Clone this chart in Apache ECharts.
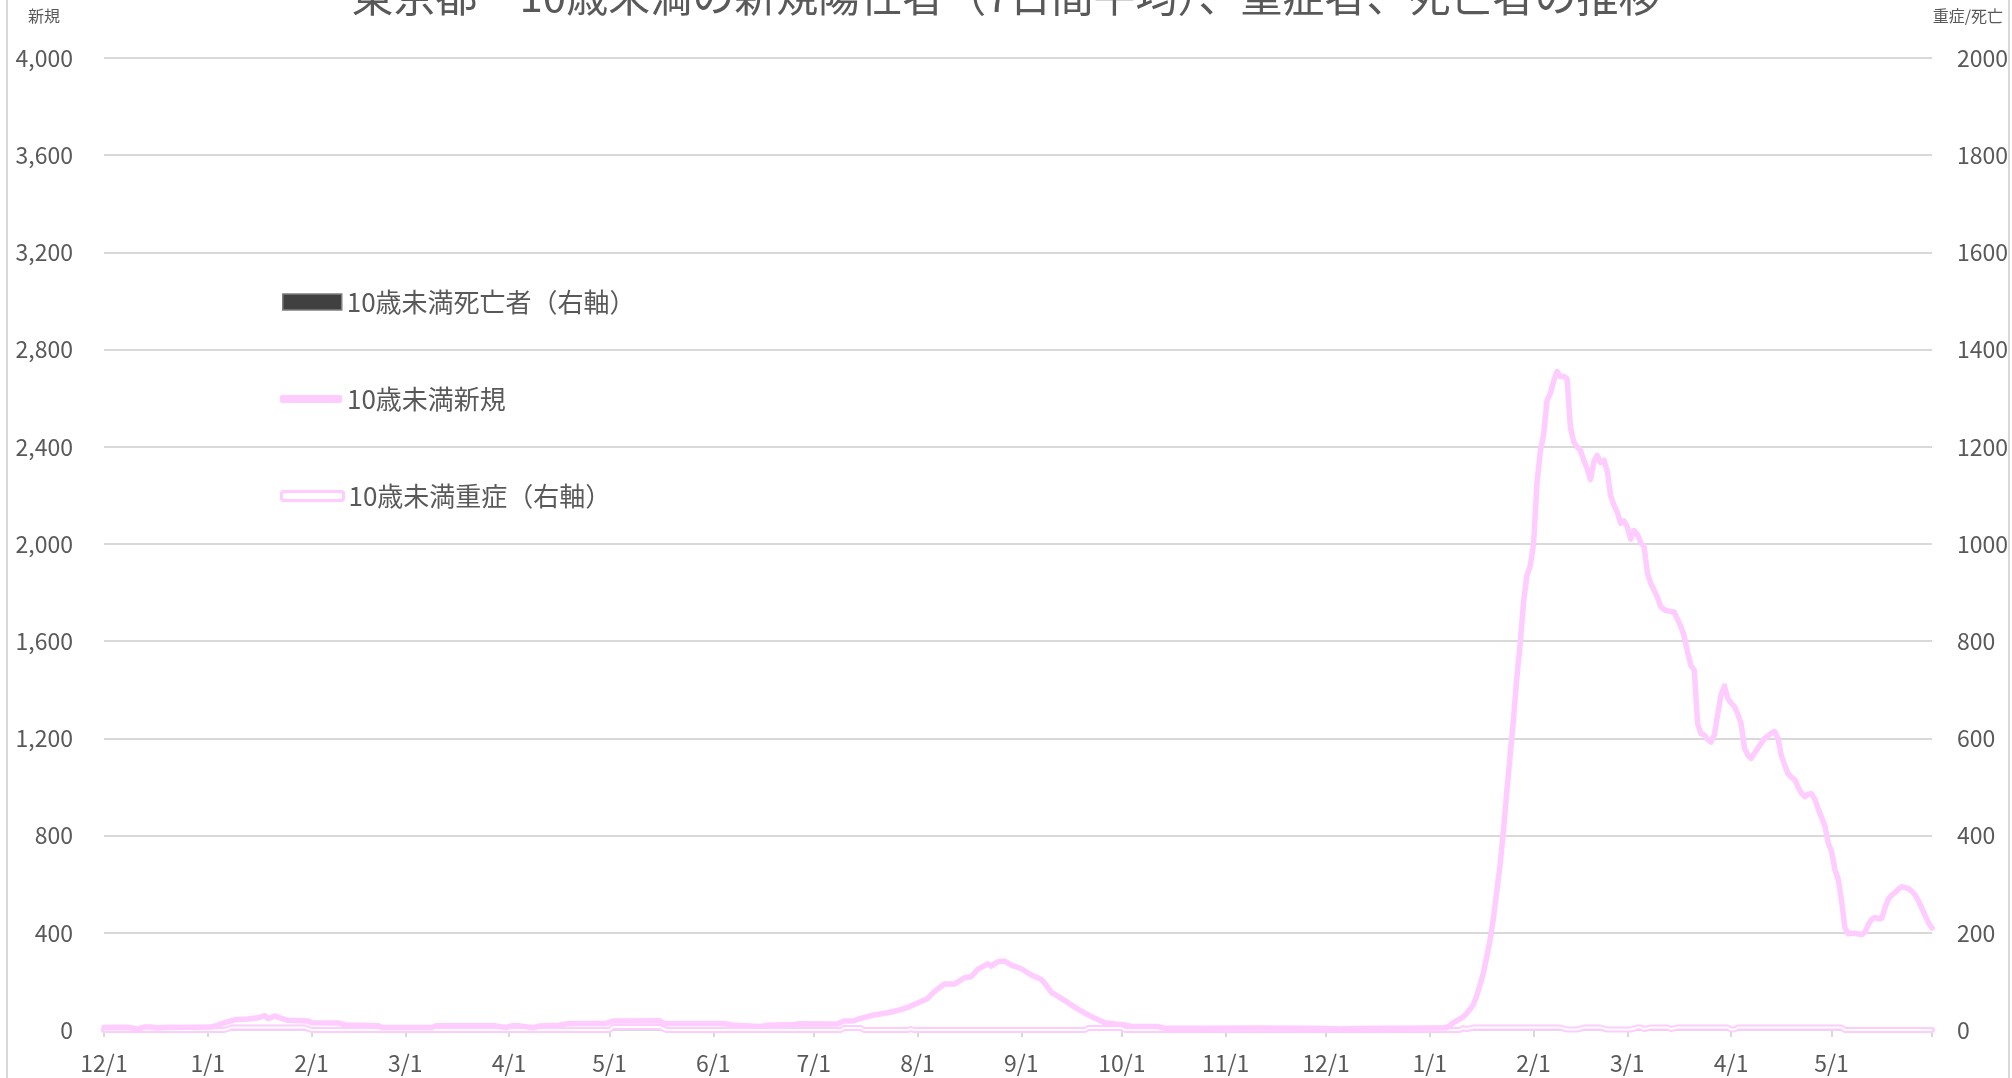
<!DOCTYPE html>
<html>
<head>
<meta charset="utf-8">
<script src="https://cdn.jsdelivr.net/npm/echarts@6/dist/echarts.min.js"></script>
<style>
html,body{margin:0;padding:0;background:#fff;}
#chart{width:2012px;height:1078px;}
</style>
</head>
<body>
<div id="chart"></div>
<script>
const titleText = '東京都　10歳未満の新規陽性者（7日間平均）、重症者、死亡者の推移';
const leftAxisName = '新規';
const rightAxisName = '重症/死亡';
const seriesNames = ['10歳未満死亡者（右軸）', '10歳未満新規', '10歳未満重症（右軸）'];

const xStart = '2020-12-01';
const xEnd = '2022-05-31';
const tickDates = ['2020-12-01','2021-01-01','2021-02-01','2021-03-01','2021-04-01','2021-05-01','2021-06-01','2021-07-01','2021-08-01','2021-09-01','2021-10-01','2021-11-01','2021-12-01','2022-01-01','2022-02-01','2022-03-01','2022-04-01','2022-05-01'];
const tickLabels = ['12/1','1/1','2/1','3/1','4/1','5/1','6/1','7/1','8/1','9/1','10/1','11/1','12/1','1/1','2/1','3/1','4/1','5/1'];

// 10歳未満新規 (7日間平均) — left axis
const newCases = [
['2020-12-01',10],['2020-12-08',11],['2020-12-11',4],['2020-12-13',12],['2020-12-15',12],['2020-12-17',8],['2020-12-20',11],['2020-12-28',11],
['2021-01-02',12],['2021-01-04',20],['2021-01-06',30],['2021-01-09',42],['2021-01-13',45],['2021-01-16',50],['2021-01-18',59],['2021-01-19',46],['2021-01-21',58],['2021-01-23',48],['2021-01-25',40],['2021-01-31',37],
['2021-02-01',30],['2021-02-09',29],['2021-02-11',21],['2021-02-21',18],['2021-02-22',10],
['2021-03-09',10],['2021-03-10',17],['2021-03-28',17],['2021-03-31',10],
['2021-04-02',18],['2021-04-04',18],['2021-04-06',13],['2021-04-08',10],['2021-04-10',16],['2021-04-16',20],['2021-04-19',27],['2021-04-30',27],
['2021-05-02',37],['2021-05-16',38],['2021-05-17',27],
['2021-06-04',27],['2021-06-07',20],['2021-06-15',14],['2021-06-17',20],['2021-06-25',23],['2021-06-27',26],
['2021-07-08',25],['2021-07-10',37],['2021-07-13',38],['2021-07-15',48],['2021-07-19',62],['2021-07-23',71],['2021-07-26',80],['2021-07-29',93],
['2021-08-02',117],['2021-08-04',130],['2021-08-06',158],['2021-08-09',189],['2021-08-12',189],['2021-08-15',215],['2021-08-17',219],['2021-08-19',250],['2021-08-22',272],['2021-08-23',263],['2021-08-25',281],['2021-08-27',284],['2021-08-29',267],
['2021-09-01',252],['2021-09-04',226],['2021-09-07',208],['2021-09-08',192],['2021-09-10',155],['2021-09-14',121],['2021-09-17',93],['2021-09-20',69],['2021-09-23',48],['2021-09-26',30],['2021-09-29',25],
['2021-10-02',21],['2021-10-04',14],['2021-10-12',14],['2021-10-14',7],['2021-10-25',7],
['2021-11-10',8],['2021-11-25',7],
['2021-12-01',6],['2021-12-05',4],['2021-12-10',6],['2021-12-20',7],
['2022-01-01',8],['2022-01-05',9],['2022-01-06',10],['2022-01-07',18],
['2022-01-08',30],['2022-01-09',38],['2022-01-10',45],['2022-01-11',55],['2022-01-12',68],['2022-01-13',85],['2022-01-14',105],['2022-01-15',140],['2022-01-16',185],['2022-01-17',235],['2022-01-18',300],['2022-01-19',370],['2022-01-20',460],['2022-01-21',570],['2022-01-22',680],['2022-01-23',820],['2022-01-24',980],['2022-01-25',1130],['2022-01-26',1280],['2022-01-27',1450],['2022-01-28',1590],['2022-01-29',1760],['2022-01-30',1870],['2022-01-31',1910],
['2022-02-01',2000],['2022-02-02',2250],['2022-02-03',2380],['2022-02-04',2450],['2022-02-05',2590],['2022-02-06',2620],['2022-02-07',2670],['2022-02-08',2710],['2022-02-09',2690],['2022-02-10',2690],['2022-02-11',2680],['2022-02-12',2480],['2022-02-13',2420],['2022-02-14',2400],['2022-02-15',2385],['2022-02-16',2345],['2022-02-17',2310],['2022-02-18',2265],['2022-02-19',2340],['2022-02-20',2365],['2022-02-21',2335],['2022-02-22',2345],['2022-02-23',2300],['2022-02-24',2200],['2022-02-25',2160],['2022-02-26',2130],['2022-02-27',2085],['2022-02-28',2095],
['2022-03-01',2070],['2022-03-02',2020],['2022-03-03',2055],['2022-03-04',2040],['2022-03-05',2005],['2022-03-06',1990],['2022-03-07',1880],['2022-03-08',1838],['2022-03-09',1810],['2022-03-10',1780],['2022-03-11',1742],['2022-03-12',1730],['2022-03-13',1725],['2022-03-14',1722],['2022-03-15',1720],['2022-03-16',1690],['2022-03-17',1660],['2022-03-18',1620],['2022-03-19',1555],['2022-03-20',1500],['2022-03-21',1480],['2022-03-22',1260],['2022-03-23',1220],['2022-03-24',1214],['2022-03-25',1195],['2022-03-26',1185],['2022-03-27',1215],['2022-03-28',1300],['2022-03-29',1380],['2022-03-30',1416],['2022-03-31',1365],
['2022-04-01',1345],['2022-04-02',1331],['2022-04-03',1300],['2022-04-04',1260],['2022-04-05',1160],['2022-04-06',1130],['2022-04-07',1118],['2022-04-08',1140],['2022-04-09',1160],['2022-04-10',1180],['2022-04-11',1200],['2022-04-12',1210],['2022-04-13',1222],['2022-04-14',1228],['2022-04-15',1200],['2022-04-16',1130],['2022-04-17',1090],['2022-04-18',1055],['2022-04-19',1040],['2022-04-20',1030],['2022-04-21',1000],['2022-04-22',975],['2022-04-23',960],['2022-04-24',970],['2022-04-25',972],['2022-04-26',950],['2022-04-27',910],['2022-04-28',875],['2022-04-29',840],['2022-04-30',770],
['2022-05-01',735],['2022-05-02',660],['2022-05-03',620],['2022-05-04',530],['2022-05-05',420],['2022-05-06',396],['2022-05-07',398],['2022-05-08',398],['2022-05-09',395],['2022-05-10',393],['2022-05-11',403],['2022-05-12',435],['2022-05-13',455],['2022-05-14',463],['2022-05-15',458],['2022-05-16',460],['2022-05-17',505],['2022-05-18',540],['2022-05-19',555],['2022-05-20',566],['2022-05-21',580],['2022-05-22',590],['2022-05-23',586],['2022-05-24',582],['2022-05-25',570],['2022-05-26',555],['2022-05-27',530],['2022-05-28',500],['2022-05-29',470],['2022-05-30',440],['2022-05-31',420]
];

// 10歳未満重症 — right axis
const severe = [
['2020-12-01',0],['2021-01-06',0],['2021-01-08',5],['2021-01-30',5],['2021-02-01',0],
['2021-05-01',0],['2021-05-02',6],['2021-05-16',6],['2021-05-18',0],
['2021-07-09',0],['2021-07-10',4],['2021-07-15',4],['2021-07-16',0],['2021-07-29',0],['2021-07-30',2],['2021-07-31',0],
['2021-09-20',0],['2021-09-21',4],['2021-10-01',4],['2021-10-02',0],
['2022-01-10',0],['2022-01-11',4],['2022-01-12',2],['2022-01-14',5],['2022-02-09',5],['2022-02-11',1],['2022-02-14',1],['2022-02-16',5],['2022-02-21',5],['2022-02-23',1],['2022-03-02',1],['2022-03-04',5],['2022-03-05',5],['2022-03-06',2],['2022-03-08',5],['2022-03-13',5],['2022-03-14',2],['2022-03-16',5],['2022-03-31',5],['2022-04-01',1],['2022-04-02',1],['2022-04-03',5],['2022-05-04',5],['2022-05-05',0],['2022-05-31',0]
];

// 10歳未満死亡者 — right axis
const deaths = [['2022-03-20',1]];

function ts(s){ const p = s.split('-').map(Number); return Date.UTC(p[0], p[1]-1, p[2]); }
const toPts = arr => arr.map(d => [ts(d[0]), d[1]]);

const tickTs = tickDates.map(ts);
const pink = '#FFCCFF';
const txt = '#595959';
const grid = '#D9D9D9';
const FONT = '"Noto Sans CJK JP", "Noto Sans", sans-serif';

const chart = echarts.init(document.getElementById('chart'), null, {renderer: 'canvas'});
chart.setOption({
  animation: false,
  backgroundColor: '#ffffff',
  textStyle: {fontFamily: FONT},
  title: {
    text: titleText, left: 'center', top: -25, padding: 0,
    textStyle: {fontSize: 42, fontWeight: 'normal', color: txt, fontFamily: FONT}
  },
  grid: {left: 104, right: 80, top: 58, bottom: 48, containLabel: false},
  legend: [
    {data: [{name: seriesNames[0], icon: 'rect', itemStyle: {color: '#404040', borderColor: '#7F7F7F', borderWidth: 1.5}}],
     left: 282, top: 288, itemWidth: 59, itemHeight: 16, padding: 0,
     textStyle: {fontSize: 26, color: txt, lineHeight: 28, fontFamily: FONT}, selectedMode: false},
    {data: [{name: seriesNames[1], icon: 'roundRect', itemStyle: {color: pink, borderWidth: 0}}],
     left: 280, top: 385, itemWidth: 62, itemHeight: 8, padding: 0,
     textStyle: {fontSize: 26, color: txt, lineHeight: 28, fontFamily: FONT}, selectedMode: false},
    {data: [{name: seriesNames[2], icon: 'roundRect', itemStyle: {color: '#ffffff', borderColor: pink, borderWidth: 3}}],
     left: 280, top: 482, itemWidth: 62, itemHeight: 9, padding: 0,
     textStyle: {fontSize: 26, color: txt, lineHeight: 28, fontFamily: FONT}, selectedMode: false}
  ],
  xAxis: {
    type: 'value', min: ts(xStart), max: ts(xEnd),
    axisLine: {show: true, onZero: false, lineStyle: {color: grid, width: 2}},
    axisTick: {show: true, length: 7, lineStyle: {color: grid, width: 2}, customValues: tickTs.concat([ts(xEnd)])},
    axisLabel: {
      customValues: tickTs, color: txt, fontSize: 23, margin: 22, fontFamily: FONT,
      formatter: function (v) { const i = tickTs.indexOf(v); return i >= 0 ? tickLabels[i] : ''; }
    },
    splitLine: {show: false}
  },
  yAxis: [
    {type: 'value', min: 0, max: 4000, interval: 400,
     axisLine: {show: false}, axisTick: {show: false},
     axisLabel: {color: txt, fontSize: 23, margin: 31, fontFamily: FONT, formatter: v => v.toLocaleString('en-US')},
     splitLine: {show: true, lineStyle: {color: grid, width: 2}}},
    {type: 'value', min: 0, max: 2000, interval: 200,
     axisLine: {show: false}, axisTick: {show: false},
     axisLabel: {color: txt, fontSize: 23, margin: 25, fontFamily: FONT, formatter: v => String(v)},
     splitLine: {show: false}}
  ],
  graphic: [
    {type: 'line', shape: {x1: 7, y1: -5, x2: 7, y2: 1085}, style: {stroke: grid, lineWidth: 2}, silent: true},
    {type: 'line', shape: {x1: 2009, y1: -5, x2: 2009, y2: 1085}, style: {stroke: grid, lineWidth: 2}, silent: true},
    {type: 'text', left: 28, top: 8, style: {text: leftAxisName, fill: txt, fontSize: 16, fontFamily: FONT}, silent: true},
    {type: 'text', right: 9, top: 8, style: {text: rightAxisName, fill: txt, fontSize: 16, fontFamily: FONT}, silent: true}
  ],
  series: [
    {name: seriesNames[0], type: 'bar', yAxisIndex: 1, barWidth: 5, data: toPts(deaths),
     itemStyle: {color: '#404040'}, z: 2},
    {name: seriesNames[2], type: 'line', yAxisIndex: 1, data: toPts(severe), showSymbol: false,
     lineStyle: {color: pink, width: 6, join: 'round', cap: 'round'}, itemStyle: {color: pink}, z: 3},
    {name: seriesNames[2] + '_inner', type: 'line', yAxisIndex: 1, data: toPts(severe), showSymbol: false,
     lineStyle: {color: '#ffffff', width: 2}, z: 4, silent: true},
    {name: seriesNames[1], type: 'line', yAxisIndex: 0, data: toPts(newCases), showSymbol: false,
     lineStyle: {color: pink, width: 5.5, join: 'round', cap: 'round'}, itemStyle: {color: pink}, z: 5}
  ]
});
</script>
</body>
</html>
